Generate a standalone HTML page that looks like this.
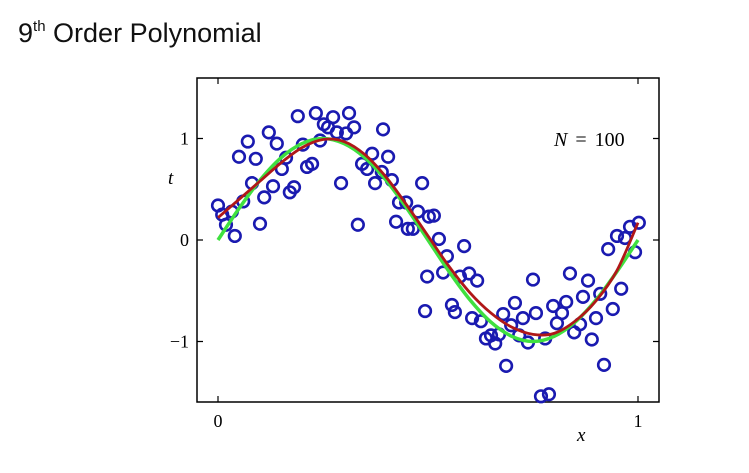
<!DOCTYPE html>
<html><head><meta charset="utf-8"><style>
body{margin:0;background:#fff;width:749px;height:473px;overflow:hidden}
svg{display:block}
</style></head><body>
<svg width="749" height="473">
<text x="18" y="42" font-family="Liberation Sans, sans-serif" font-size="27" fill="#111">9<tspan font-size="15" dy="-11">th</tspan><tspan dy="11"> Order Polynomial</tspan></text>
<g id="plot"></g>
</svg>
<script>
const xs=[0.000,0.010,0.033,0.019,0.040,0.060,0.081,0.050,0.071,0.090,0.121,0.140,0.100,0.110,0.131,0.152,0.162,0.171,0.181,0.190,0.202,0.212,0.224,0.233,0.243,0.252,0.274,0.262,0.283,0.305,0.312,0.324,0.293,0.333,0.343,0.355,0.367,0.374,0.393,0.405,0.390,0.414,0.431,0.448,0.424,0.452,0.464,0.476,0.486,0.502,0.498,0.493,0.514,0.526,0.545,0.536,0.557,0.564,0.576,0.586,0.598,0.617,0.605,0.626,0.638,0.650,0.660,0.669,0.679,0.686,0.698,0.707,0.717,0.726,0.738,0.757,0.750,0.769,0.788,0.779,0.798,0.807,0.819,0.829,0.838,0.848,0.862,0.869,0.881,0.890,0.900,0.910,0.919,0.929,0.940,0.950,0.960,0.969,0.981,0.993,1.002];
const ts=[0.34,0.25,0.28,0.15,0.04,0.38,0.56,0.82,0.97,0.80,1.06,0.95,0.16,0.42,0.53,0.70,0.81,0.47,0.52,1.22,0.94,0.72,0.75,1.25,0.98,1.14,1.21,1.11,1.06,1.05,1.25,1.11,0.56,0.15,0.75,0.70,0.85,0.56,1.09,0.82,0.67,0.59,0.37,0.37,0.18,0.11,0.11,0.28,0.56,0.23,-0.36,-0.70,0.24,0.01,-0.16,-0.32,-0.64,-0.71,-0.36,-0.06,-0.33,-0.40,-0.77,-0.80,-0.97,-0.94,-1.02,-0.93,-0.73,-1.24,-0.84,-0.62,-0.94,-0.77,-1.01,-0.72,-0.39,-1.54,-1.52,-0.97,-0.65,-0.82,-0.72,-0.61,-0.33,-0.91,-0.83,-0.56,-0.40,-0.98,-0.77,-0.53,-1.23,-0.09,-0.68,0.04,-0.48,0.02,0.13,-0.12,0.17];
const curveX=[0,0.05,0.1,0.15,0.2,0.25,0.3,0.35,0.4,0.45,0.5,0.55,0.6,0.65,0.7,0.75,0.8,0.85,0.9,0.95,1];
const trueY=[0,0.31,0.59,0.81,0.95,1,0.95,0.81,0.59,0.31,0,-0.31,-0.59,-0.81,-0.95,-1,-0.95,-0.81,-0.59,-0.31,0];
const fitY=[0.22,0.40,0.58,0.76,0.91,0.99,0.97,0.84,0.62,0.34,0.04,-0.26,-0.52,-0.72,-0.86,-0.93,-0.92,-0.80,-0.60,-0.30,0.17];
const xTicks=[0,1], yTicks=[-1,0,1];
const X=v=>218+v*420, Y=v=>240-v*101.5;
const NS='http://www.w3.org/2000/svg', g=document.getElementById('plot');
function mk(t,a,p){const e=document.createElementNS(NS,t);for(const k in a)e.setAttribute(k,a[k]);(p||g).appendChild(e);return e;}
const frame=mk('rect',{x:197,y:78,width:462,height:324,fill:'none',stroke:'#000','stroke-width':1.5});


xTicks.forEach(v=>{
 const l=mk('path',{d:`M${X(v)},402v-6M${X(v)},78v6`,stroke:'#000','stroke-width':1.2});
 
 
 const t=mk('text',{x:X(v),y:427,'text-anchor':'middle','font-family':'Liberation Serif, serif','font-size':18});
 t.textContent=v;
 
 
});
yTicks.forEach(v=>{
 const l=mk('path',{d:`M197,${Y(v)}h6M659,${Y(v)}h-6`,stroke:'#000','stroke-width':1.2});
 
 
 const t=mk('text',{x:189,y:Y(v)+6,'text-anchor':'end','font-family':'Liberation Serif, serif','font-size':18});
 t.textContent=v<0?'\u2212'+(-v):v;
 
 
});
const xl=mk('text',{x:577,y:441,'font-family':'Liberation Serif, serif','font-style':'italic','font-size':19});
xl.textContent='x';


const yl=mk('text',{x:168,y:184,'font-family':'Liberation Serif, serif','font-style':'italic','font-size':19});
yl.textContent='t';


const nl=mk('text',{x:554,y:146,'font-family':'Liberation Serif, serif','font-size':20});
nl.innerHTML='<tspan font-style="italic">N</tspan><tspan dx="8">=</tspan><tspan dx="8">100</tspan>';


function path(ys){
 const p=curveX.map((x,i)=>[X(x),Y(ys[i])]);
 let d=`M${p[0][0]},${p[0][1]}`;
 for(let i=0;i<p.length-1;i++){const a=p[Math.max(0,i-1)],b=p[i],c=p[i+1],e=p[Math.min(p.length-1,i+2)];
  d+=`C${b[0]+(c[0]-a[0])/6},${b[1]+(c[1]-a[1])/6} ${c[0]-(e[0]-b[0])/6},${c[1]-(e[1]-b[1])/6} ${c[0]},${c[1]}`;}
 return d;
}
const pts=mk('g',{});


xs.forEach((x,i)=>{
 const c=mk('circle',{cx:X(x),cy:Y(ts[i]),r:5.8,fill:'none',stroke:'#1a1ab0','stroke-width':2.6},pts);
 
 
});
const gl=mk('path',{d:path(trueY),fill:'none',stroke:'#3fe03f','stroke-width':3.5});


const rl=mk('path',{d:path(fitY),fill:'none',stroke:'#b01818','stroke-width':2.8});


</script>
</body></html>
